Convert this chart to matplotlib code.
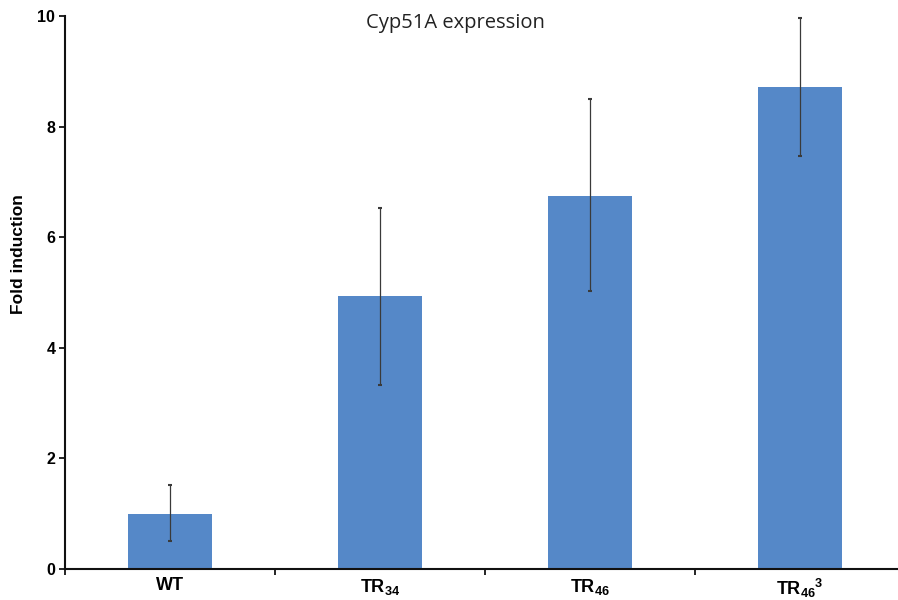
import matplotlib
matplotlib.use("Agg")
import matplotlib.pyplot as plt
import numpy as np

# values
categories = ["WT", "TR$_{34}$", "TR$_{46}$", "TR$_{46}{}^{3}$"]
fold = [1.0, 4.93, 6.75, 8.72]
err_low = [0.50, 1.60, 1.72, 1.25]
err_high = [0.52, 1.60, 1.75, 1.25]
yticks = [0, 2, 4, 6, 8, 10]

plt.rcParams["font.family"] = ["Liberation Sans", "DejaVu Sans"]
plt.rcParams["mathtext.fontset"] = "custom"
plt.rcParams["mathtext.rm"] = "Liberation Sans:bold"
plt.rcParams["mathtext.it"] = "Liberation Sans:bold"
plt.rcParams["mathtext.bf"] = "Liberation Sans:bold"

W, H = 898, 600
fig = plt.figure(figsize=(W / 100, H / 100), dpi=100)
# axes box in pixel coords: left spine x=65, bottom y=569, top y=16, right past edge
left, right, top, bottom = 65, 905, 16, 569
ax = fig.add_axes([left / W, 1 - bottom / H, (right - left) / W, (bottom - top) / H])

x = np.arange(len(categories))
ax.bar(x, fold, width=0.4, color="#5588c8", zorder=2)
ax.errorbar(x, fold, yerr=[err_low, err_high], fmt="none", ecolor="#3a3a3a",
            elinewidth=0.9, capsize=1.5, capthick=1.5, zorder=3)

ax.set_xlim(-0.5, len(categories) - 0.5)
ax.set_ylim(0, 10)
ax.set_yticks(yticks)
ax.set_yticklabels([str(t) for t in yticks], fontsize=11.5, fontweight="bold")

# category labels centred under bars, tick marks between categories
ax.set_xticks(x)
ax.set_xticklabels(categories, fontsize=13, fontweight="bold")
ax.tick_params(axis="x", length=0, pad=6)
ax.set_xticks(np.arange(len(categories) + 1) - 0.5, minor=True)
ax.tick_params(axis="x", which="minor", length=4, width=1.2, direction="out")
ax.tick_params(axis="y", length=4, width=1.2, direction="out", pad=3)

for s in ("top", "right"):
    ax.spines[s].set_visible(False)
for s in ("left", "bottom"):
    ax.spines[s].set_linewidth(1.5)
    ax.spines[s].set_color("#111111")

ax.set_ylabel("Fold induction", fontsize=12.5, fontweight="bold")
ax.yaxis.set_label_coords(-0.046, 0.57)
fig.text(455 / W, 1 - 23 / H, "Cyp51A expression", ha="center", va="center",
         fontsize=14.5, family=["Open Sans", "DejaVu Sans"], color="#222222")

fig.savefig("out.png", dpi=100)
